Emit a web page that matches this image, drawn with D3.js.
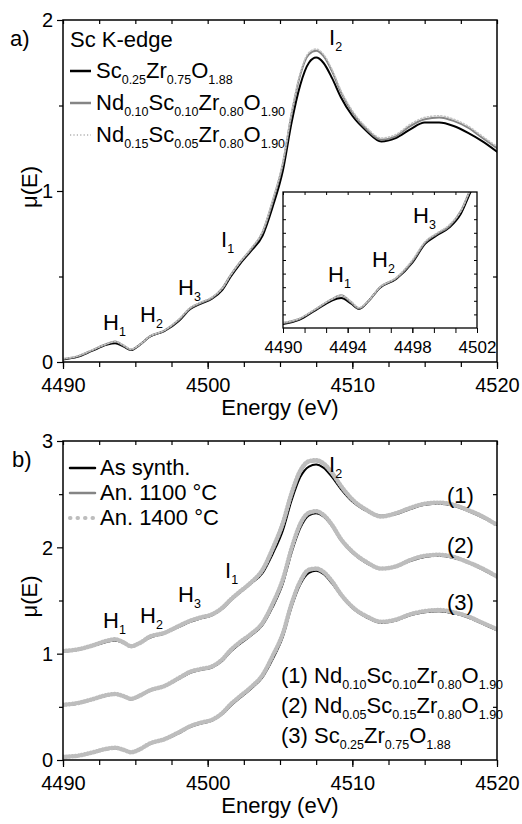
<!DOCTYPE html>
<html>
<head>
<meta charset="utf-8">
<script src="https://cdn.jsdelivr.net/npm/d3@7"></script>
<style>
  body { margin: 0; background: #fff; }
  svg { font-family: "Liberation Sans", Arial, sans-serif; }
</style>
</head>
<body>
<svg id="chart" width="522" height="824"></svg>
<script>
// energy grid (eV)
var energy = [4490,4491,4492,4493,4493.6,4494.2,4494.7,4495.3,4496,4497,4498,4498.8,4499.5,4500.3,4501,4501.6,4502.2,4503,4503.8,4504.5,4505.2,4505.8,4506.4,4507,4507.5,4508,4508.6,4509.2,4510,4511,4512,4513,4514,4515,4516,4517,4518,4519,4520];

// panel a) Sc K-edge
var aSc25 = [0.015,0.03,0.065,0.10,0.11,0.09,0.07,0.10,0.148,0.18,0.24,0.31,0.34,0.37,0.42,0.50,0.57,0.65,0.74,0.91,1.12,1.40,1.62,1.75,1.78,1.75,1.66,1.55,1.44,1.35,1.29,1.31,1.36,1.40,1.40,1.38,1.34,1.29,1.23];
var aNd10 = [0.018,0.033,0.068,0.105,0.12,0.095,0.072,0.10,0.15,0.183,0.245,0.315,0.345,0.375,0.43,0.51,0.58,0.66,0.76,0.94,1.16,1.45,1.68,1.80,1.82,1.79,1.70,1.58,1.46,1.36,1.30,1.32,1.38,1.42,1.43,1.41,1.37,1.31,1.25];
var aNd15 = [0.02,0.035,0.07,0.105,0.12,0.098,0.075,0.102,0.15,0.185,0.25,0.318,0.348,0.38,0.43,0.51,0.58,0.665,0.765,0.95,1.17,1.46,1.69,1.81,1.83,1.80,1.71,1.59,1.47,1.37,1.31,1.33,1.39,1.43,1.44,1.42,1.38,1.32,1.26];

// panel b) as plotted (stacked)
var b1Syn = [1.02,1.035,1.07,1.11,1.125,1.10,1.07,1.10,1.15,1.19,1.25,1.30,1.33,1.36,1.42,1.50,1.57,1.66,1.76,1.94,2.16,2.44,2.66,2.76,2.78,2.75,2.66,2.55,2.43,2.34,2.29,2.31,2.36,2.40,2.41,2.39,2.34,2.28,2.21];
var b1An11 = [1.02,1.035,1.07,1.115,1.13,1.10,1.07,1.10,1.155,1.19,1.255,1.305,1.335,1.365,1.43,1.51,1.58,1.67,1.78,1.97,2.20,2.48,2.70,2.80,2.81,2.78,2.69,2.57,2.45,2.35,2.30,2.32,2.37,2.41,2.42,2.40,2.35,2.29,2.22];
var b1An14 = [1.025,1.04,1.075,1.12,1.135,1.105,1.07,1.10,1.16,1.195,1.26,1.31,1.34,1.37,1.43,1.51,1.58,1.67,1.79,1.99,2.23,2.51,2.72,2.81,2.82,2.79,2.70,2.58,2.45,2.35,2.29,2.32,2.37,2.41,2.42,2.40,2.35,2.29,2.21];
var b2Syn = [0.515,0.53,0.565,0.605,0.615,0.595,0.57,0.60,0.65,0.69,0.76,0.82,0.845,0.87,0.93,1.02,1.09,1.17,1.27,1.44,1.66,1.95,2.18,2.30,2.32,2.29,2.20,2.07,1.95,1.85,1.80,1.82,1.87,1.91,1.92,1.90,1.86,1.79,1.72];
var b2An11 = [0.517,0.532,0.567,0.607,0.618,0.597,0.572,0.602,0.652,0.693,0.765,0.825,0.85,0.875,0.94,1.03,1.10,1.18,1.28,1.46,1.69,1.98,2.21,2.32,2.335,2.30,2.21,2.08,1.96,1.86,1.80,1.82,1.88,1.92,1.93,1.91,1.86,1.80,1.725];
var b2An14 = [0.52,0.535,0.57,0.61,0.62,0.60,0.575,0.605,0.655,0.695,0.77,0.83,0.855,0.88,0.945,1.035,1.105,1.185,1.29,1.47,1.70,1.99,2.22,2.325,2.34,2.305,2.21,2.08,1.96,1.86,1.80,1.82,1.88,1.92,1.93,1.91,1.86,1.80,1.725];
var b3Syn = [0.025,0.035,0.065,0.10,0.11,0.09,0.07,0.10,0.15,0.19,0.25,0.31,0.34,0.37,0.43,0.51,0.58,0.67,0.78,0.95,1.16,1.44,1.65,1.76,1.78,1.75,1.66,1.55,1.43,1.34,1.29,1.31,1.36,1.39,1.40,1.38,1.34,1.28,1.22];
var b3An11 = [0.027,0.037,0.067,0.103,0.115,0.093,0.072,0.10,0.152,0.193,0.255,0.315,0.345,0.375,0.435,0.52,0.59,0.68,0.79,0.97,1.18,1.46,1.67,1.78,1.79,1.76,1.67,1.56,1.44,1.35,1.30,1.32,1.37,1.40,1.41,1.39,1.35,1.29,1.23];
var b3An14 = [0.03,0.04,0.07,0.105,0.115,0.095,0.073,0.10,0.155,0.195,0.26,0.318,0.35,0.378,0.44,0.525,0.595,0.685,0.80,0.98,1.19,1.47,1.68,1.79,1.80,1.77,1.68,1.56,1.44,1.35,1.30,1.32,1.37,1.40,1.41,1.39,1.35,1.29,1.23];

var xTicks = [4490, 4500, 4510, 4520];
var yTicksA = [0, 1, 2];
var yTicksB = [0, 1, 2, 3];
var insetTicks = [4490, 4494, 4498, 4502];

var legendA = ["Sc{0.25}Zr{0.75}O{1.88}", "Nd{0.10}Sc{0.10}Zr{0.80}O{1.90}", "Nd{0.15}Sc{0.05}Zr{0.80}O{1.90}"];
var legendB = ["As synth.", "An. 1100 \u00B0C", "An. 1400 \u00B0C"];
var samplesB = ["(1) Nd{0.10}Sc{0.10}Zr{0.80}O{1.90}", "(2) Nd{0.05}Sc{0.15}Zr{0.80}O{1.90}", "(3) Sc{0.25}Zr{0.75}O{1.88}"];

var svg = d3.select("#chart");
var L = 63, R = 497;

var styles = {
  black: {stroke: "#000", width: 2, dash: null},
  grey: {stroke: "#858585", width: 2, dash: null},
  light: {stroke: "#c4c4c4", width: 1.6, dash: "1.2,2.2"},
  lightThick: {stroke: "#bdbdbd", width: 4.5, dash: "0.5,2.6"}
};

// text with {subscripts}
function rich(sel, str, size, subSize, shift) {
  var parts = str.split(/\{|\}/);
  parts.forEach(function(p, i) {
    if (p === "") return;
    var t = sel.append("tspan").text(p);
    if (i % 2 === 1) {
      t.attr("font-size", subSize).attr("dy", shift);
    } else {
      t.attr("font-size", size);
      if (i > 0 && parts[i - 1] !== "") t.attr("dy", -shift);
    }
  });
  return sel;
}

function label(g, x, y, str, size) {
  var t = g.append("text").attr("x", x).attr("y", y).attr("fill", "#000");
  rich(t, str, size || 22, 12.5, 6);
}

function drawCurve(g, x, y, vals, st) {
  var line = d3.line()
    .x(function(d, i) { return x(energy[i]); })
    .y(function(d) { return y(d); })
    .curve(d3.curveMonotoneX);
  g.append("path")
    .datum(vals)
    .attr("fill", "none")
    .attr("stroke", st.stroke)
    .attr("stroke-width", st.width)
    .attr("stroke-linecap", "round")
    .attr("stroke-linejoin", "round")
    .attr("stroke-dasharray", st.dash)
    .attr("d", line);
}

function frame(g, x, y, top, bottom, yTicks, yMinor) {
  // minor ticks
  var xMinor = d3.range(x.domain()[0], x.domain()[1] + 0.01, 2.5);
  g.append("g").attr("transform", "translate(0," + bottom + ")")
    .call(d3.axisBottom(x).tickValues(xMinor).tickSize(5).tickFormat(""));
  g.append("g").attr("transform", "translate(0," + top + ")")
    .call(d3.axisBottom(x).tickValues(xMinor).tickSize(4).tickFormat(""));
  g.append("g").attr("transform", "translate(" + L + ",0)")
    .call(d3.axisLeft(y).tickValues(yMinor).tickSize(4).tickFormat(""));
  g.append("g").attr("transform", "translate(" + R + ",0)")
    .call(d3.axisLeft(y).tickValues(yMinor).tickSize(4).tickFormat(""));

  var xb = g.append("g").attr("transform", "translate(0," + bottom + ")")
    .call(d3.axisBottom(x).tickValues(xTicks).tickSize(7).tickFormat(d3.format("d")));
  xb.selectAll(".tick text").attr("y", 16).attr("dy", "0.71em")
    .attr("font-size", 20).attr("font-family", "Liberation Sans, Arial, sans-serif").attr("fill", "#000");

  var yl = g.append("g").attr("transform", "translate(" + L + ",0)")
    .call(d3.axisLeft(y).tickValues(yTicks).tickSize(6).tickFormat(d3.format("d")));
  yl.selectAll(".tick text").attr("x", -10).attr("dy", "0.34em")
    .attr("font-size", 20).attr("font-family", "Liberation Sans, Arial, sans-serif").attr("fill", "#000");

  g.selectAll(".domain").remove();
  g.selectAll(".tick line").attr("stroke", "#000").attr("stroke-width", 1.2);

  g.append("rect").attr("x", L).attr("y", top).attr("width", R - L).attr("height", bottom - top)
    .attr("fill", "none").attr("stroke", "#000").attr("stroke-width", 1.5);

  g.append("text").attr("x", (L + R) / 2).attr("y", bottom + 53)
    .attr("text-anchor", "middle").attr("font-size", 22).text("Energy (eV)");
  g.append("text").attr("transform", "translate(37," + ((top + bottom) / 2 - 4) + ") rotate(-90)")
    .attr("text-anchor", "middle").attr("font-size", 22).text("\u03BC(E)");
}

// ---------- panel a ----------
var xA = d3.scaleLinear().domain([4490, 4520]).range([L, R]);
var yA = d3.scaleLinear().domain([0, 2]).range([362, 20]);
var ga = svg.append("g");

svg.append("clipPath").attr("id", "clipA").append("rect")
  .attr("x", L).attr("y", 20).attr("width", R - L).attr("height", 342);
var ca = ga.append("g").attr("clip-path", "url(#clipA)");
drawCurve(ca, xA, yA, aSc25, styles.black);
drawCurve(ca, xA, yA, aNd10, styles.grey);
drawCurve(ca, xA, yA, aNd15, styles.light);

frame(ga, xA, yA, 20, 362, yTicksA, [0.5, 1.5]);

ga.append("text").attr("x", 10).attr("y", 46).attr("font-size", 22).text("a)");
ga.append("text").attr("x", 70).attr("y", 47).attr("font-size", 22).text("Sc K-edge");
var legStyles = [styles.black, styles.grey, styles.light];
legendA.forEach(function(s, i) {
  var yy = 71 + i * 32;
  ga.append("line").attr("x1", 70).attr("x2", 91).attr("y1", yy).attr("y2", yy)
    .attr("stroke", legStyles[i].stroke).attr("stroke-width", legStyles[i].width + 0.5)
    .attr("stroke-dasharray", legStyles[i].dash);
  label(ga, 96, yy + 7, s, 22);
});

label(ga, 103, 330, "H{1}");
label(ga, 140, 322, "H{2}");
label(ga, 178, 295, "H{3}");
label(ga, 221, 247, "I{1}");
label(ga, 329, 45, "I{2}");

// inset
var xI = d3.scaleLinear().domain([4490, 4502]).range([283, 477]);
var yI = d3.scaleLinear().domain([0, 0.5]).range([328, 192]);
var gi = svg.append("g");
gi.append("rect").attr("x", 283).attr("y", 192).attr("width", 194).attr("height", 136).attr("fill", "#fff");
svg.append("clipPath").attr("id", "clipI").append("rect")
  .attr("x", 283).attr("y", 192).attr("width", 194).attr("height", 136);
var ci = gi.append("g").attr("clip-path", "url(#clipI)");
drawCurve(ci, xI, yI, aSc25, styles.black);
drawCurve(ci, xI, yI, aNd10, styles.grey);
drawCurve(ci, xI, yI, aNd15, styles.light);

var iMinor = d3.range(0, 9).map(function(i) { return 4490 + i * 4 / 3; });
var iy = d3.range(0.05, 0.5, 0.05);
gi.append("g").attr("transform", "translate(0,328)").call(d3.axisBottom(xI).tickValues(iMinor.concat([4502])).tickSize(5).tickFormat(""));
gi.append("g").attr("transform", "translate(0,192)").call(d3.axisBottom(xI).tickValues(iMinor).tickSize(3).tickFormat(""));
gi.append("g").attr("transform", "translate(283,0)").call(d3.axisRight(yI).tickValues(iy).tickSize(3).tickFormat(""));
gi.append("g").attr("transform", "translate(477,0)").call(d3.axisLeft(yI).tickValues(iy).tickSize(3).tickFormat(""));
var ixl = gi.append("g").attr("transform", "translate(0,328)")
  .call(d3.axisBottom(xI).tickValues(insetTicks).tickSize(5).tickFormat(d3.format("d")));
ixl.selectAll(".tick text").attr("y", 13).attr("dy", "0.71em").attr("font-size", 17)
  .attr("font-family", "Liberation Sans, Arial, sans-serif").attr("fill", "#000");
gi.selectAll(".domain").remove();
gi.selectAll(".tick line").attr("stroke", "#000").attr("stroke-width", 1);
gi.append("rect").attr("x", 283).attr("y", 192).attr("width", 194).attr("height", 136)
  .attr("fill", "none").attr("stroke", "#000").attr("stroke-width", 1.3);
label(gi, 328, 282, "H{1}");
label(gi, 372, 267, "H{2}");
label(gi, 413, 223, "H{3}");

// ---------- panel b ----------
var yB = d3.scaleLinear().domain([0, 3]).range([760, 441]);
var gb = svg.append("g");
svg.append("clipPath").attr("id", "clipB").append("rect")
  .attr("x", L).attr("y", 441).attr("width", R - L).attr("height", 319);
var cb = gb.append("g").attr("clip-path", "url(#clipB)");
[[b1Syn, b1An11, b1An14], [b2Syn, b2An11, b2An14], [b3Syn, b3An11, b3An14]].forEach(function(set) {
  drawCurve(cb, xA, yB, set[0], styles.black);
  drawCurve(cb, xA, yB, set[1], styles.grey);
  drawCurve(cb, xA, yB, set[2], styles.lightThick);
});

frame(gb, xA, yB, 441, 760, yTicksB, [0.5, 1.5, 2.5]);

gb.append("text").attr("x", 12).attr("y", 467).attr("font-size", 22).text("b)");
var legStylesB = [styles.black, styles.grey, styles.lightThick];
legendB.forEach(function(s, i) {
  var yy = 468 + i * 25;
  gb.append("line").attr("x1", 70).attr("x2", 95).attr("y1", yy).attr("y2", yy)
    .attr("stroke", legStylesB[i].stroke).attr("stroke-width", i === 2 ? 4 : 2.5)
    .attr("stroke-dasharray", i === 2 ? "0.5,7" : null).attr("stroke-linecap", "round");
  gb.append("text").attr("x", 100).attr("y", yy + 7).attr("font-size", 22).text(s);
});

samplesB.forEach(function(s, i) {
  label(gb, 281, 683 + i * 30, s, 22);
});
label(gb, 447, 503, "(1)");
label(gb, 447, 553, "(2)");
label(gb, 447, 610, "(3)");

label(gb, 103, 628, "H{1}");
label(gb, 140, 623, "H{2}");
label(gb, 178, 602, "H{3}");
label(gb, 225, 578, "I{1}");
label(gb, 329, 472, "I{2}");
</script>
</body>
</html>
